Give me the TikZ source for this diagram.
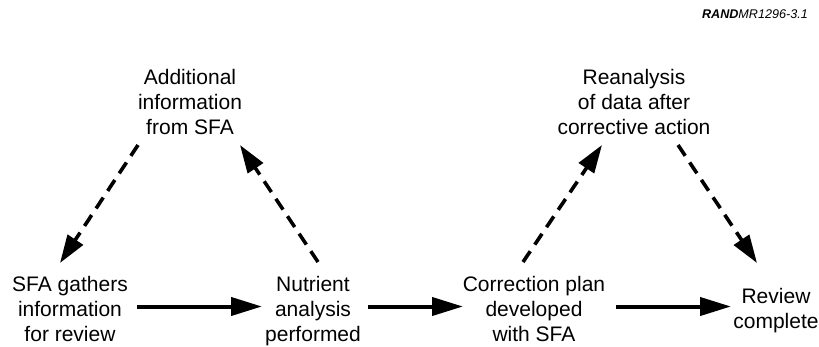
\documentclass[tikz,border=0pt]{standalone}
\usepackage{fontspec}
\setmainfont{Liberation Sans}
\usetikzlibrary{arrows.meta,calc}
\begin{document}
\begin{tikzpicture}[x=1pt,y=-1pt,
  lbl/.style={align=center,inner sep=0pt,anchor=base,font=\fontsize{21}{25}\selectfont},
  flow/.style={line width=4pt,-{Triangle[length=31pt,width=18pt]}},
  dflow/.style={line width=3.6pt,dash pattern=on 13pt off 8pt,-{Triangle[length=28pt,width=18pt]}}]
\useasboundingbox (0,0) rectangle (819,346);
\node[anchor=base east,inner sep=0pt,font=\fontsize{12.6}{13}\selectfont\itshape] (tag) at (808,18) {\textbf{RAND}MR1296-3.1};
\node[lbl] (A) at (190,134) {Additional\\information\\from SFA};
\node[lbl] (R) at (634,134) {Reanalysis\\of data after\\corrective action};
\node[lbl] (S) at (70,341) {SFA gathers\\information\\for review};
\node[lbl] (N) at (313,341) {Nutrient\\analysis\\performed};
\node[lbl] (C) at (534,341) {Correction plan\\developed\\with SFA};
\node[lbl] (V) at (776,328) {Review\\complete};
\draw[flow] ($(S.base)+(67,-34.5)$) -- ($(N.base)+(-51,-34.5)$);
\draw[flow] ($(N.base)+(55,-34.5)$) -- ($(C.base)+(-71,-34.5)$);
\draw[flow] ($(C.base)+(82,-34.5)$) -- ($(V.base)+(-45,-21.5)$);
\draw[dflow] ($(A.base)+(-52,11)$) -- ($(S.base)+(-10,-78)$);
\draw[dflow] ($(N.base)+(5,-79)$) -- ($(A.base)+(50,11)$);
\draw[dflow] ($(C.base)+(-11,-79)$) -- ($(R.base)+(-32,11)$);
\draw[dflow] ($(R.base)+(44,11)$) -- ($(V.base)+(-19,-65)$);
\end{tikzpicture}
\end{document}
